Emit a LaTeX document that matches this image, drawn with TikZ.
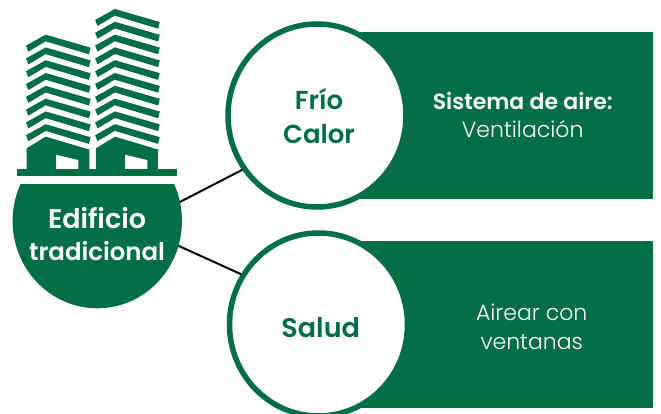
\documentclass[tikz,border=0pt]{standalone}
\usepackage{fontspec}
\usetikzlibrary{shapes.geometric}
\setmainfont{Poppins}[BoldFont={Poppins SemiBold}]
\newfontfamily\lightfont{Poppins Light}
\definecolor{verde}{HTML}{046F45}
\tikzset{
  ring/.style={ellipse,draw=verde,line width=5.5pt,fill=white,inner sep=0pt,outer sep=2.75pt},
  panel/.style={fill=verde},
  link/.style={draw=black,line width=2pt},
  boldlabel/.style={font=\fontsize{26}{34}\selectfont\bfseries,align=center,inner sep=0pt},
  headlabel/.style={font=\fontsize{22}{28}\selectfont,align=center,inner sep=0pt,text=white},
  toplabel/.style={font=\fontsize{27}{32}\selectfont\bfseries,align=center,inner sep=0pt,text=white},
}
\newcommand{\towerstripes}[3]{% x offset, first apex y, count
  \foreach \i in {1,...,#3}{
    \fill[verde,shift={(#1,#2+38.4*\i-38.4)}]
      (78,33) -- (137,0) -- (272,39) -- (267,59) -- (137,20) -- (85,51) -- cycle;
  }
}
\begin{document}
\begin{tikzpicture}[x=1pt,y=-1pt]
\useasboundingbox (0,0) rectangle (661,414);
% panels
\fill[panel] (317,32) rectangle (653,198.7);
\fill[panel] (318,240.7) rectangle (653,407.7);
% hub
\node[ellipse,minimum width=169.4pt,minimum height=174.6pt,inner sep=0pt,outer sep=0pt] (hub) at (97.3,221) {};
\begin{scope}
  \clip (0,185) rectangle (200,320);
  \fill[verde] (hub.center) ellipse[x radius=84.7,y radius=87.3];
\end{scope}
% rings
\node[ring,minimum width=178pt,minimum height=183pt] (top) at (317,115.5) {};
\node[ring,minimum width=178pt,minimum height=183pt] (bot) at (318.5,324.5) {};
% connectors
\draw[link] (hub.13.7) -- (top.216.9);
\draw[link] (hub.-17.5) -- (bot.147);
% building (drawn in 3x units)
\begin{scope}[x=0.3333pt,y=-0.3333pt]
  \towerstripes{0}{104}{8}
  \towerstripes{207.5}{27}{10}
  \fill[verde,even odd rule] (80,445) -- (137,410) -- (272,450) -- (268,450) -- (268,508) -- (80,508) -- cycle
    (168,464) -- (235,480) -- (235,508) -- (168,508) -- cycle;
  \fill[verde,even odd rule] (288,445) -- (345,410) -- (478,450) -- (474,450) -- (474,508) -- (288,508) -- cycle
    (375,464) -- (442,480) -- (442,508) -- (375,508) -- cycle;
  \fill[verde] (50,508) rectangle (530,528);
\end{scope}
% texts
\node[toplabel] (t1) at (97,234.5) {Edificio\\{\fontsize{24.4}{32}\selectfont tradicional}};
\node[boldlabel,text=verde] (t2) at (319,116) {Frío\\Calor};
\node[boldlabel,text=verde,font=\fontsize{27}{34}\selectfont\bfseries] (t3) at (320.7,328) {Salud};
\node[headlabel] (t4) at (522.7,115) {\textbf{Sistema de aire:}\\{\lightfont Ventilación}};
\node[headlabel,font=\fontsize{22}{29}\selectfont\lightfont] (t5) at (531.7,326.5) {Airear con\\ventanas};
\end{tikzpicture}
\end{document}
